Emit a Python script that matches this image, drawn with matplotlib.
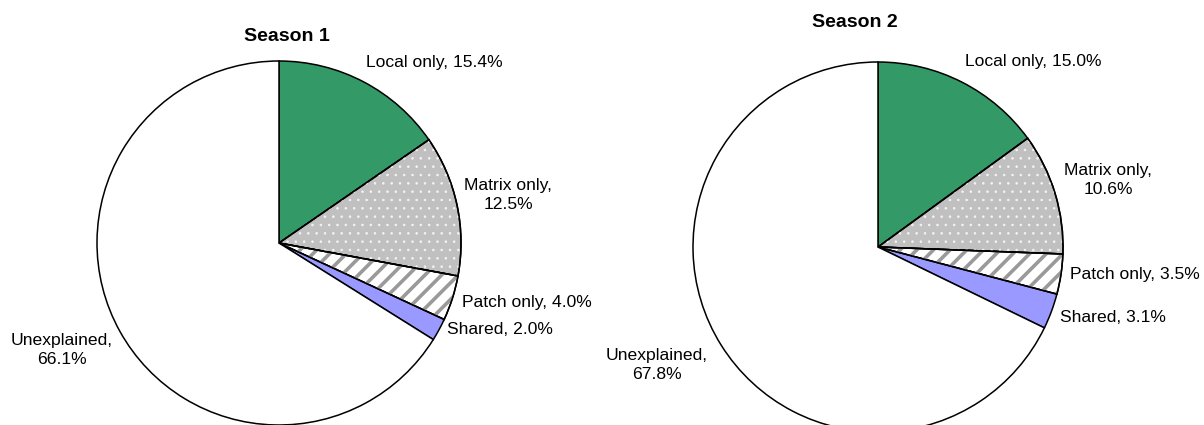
import matplotlib
matplotlib.use("Agg")
from matplotlib import pyplot as plt
from matplotlib.patches import Wedge

plt.rcParams['font.family'] = ['Liberation Sans', 'DejaVu Sans']

categories = ["Local only", "Matrix only", "Patch only", "Shared", "Unexplained"]
season1 = [15.4, 12.5, 4.0, 2.0, 66.1]
season2 = [15.0, 10.6, 3.5, 3.1, 67.8]
titles = ["Season 1", "Season 2"]

colors = ["#339966", "#C0C0C0", "#FFFFFF", "#9999FF", "#FFFFFF"]
hatches = [None, ("..", "#f4f4f4", 0.6), ("//", "#9a9a9a", 2.6), None, None]

W, H = 1204, 425
fig = plt.figure(figsize=(W / 100, H / 100), dpi=100)
ax = fig.add_axes([0, 0, 1, 1])


def py(y):
    # pixel row (from top) -> data y
    return H - y


def draw_pie(values, cx, cy, r):
    wedges, _ = ax.pie(values, colors=colors, startangle=90, counterclock=False,
                       center=(cx, py(cy)), radius=r,
                       wedgeprops=dict(edgecolor="black", linewidth=1.1))
    for w, h in zip(wedges, hatches):
        if h is None:
            continue
        pat, col, lw = h
        with plt.rc_context({'hatch.linewidth': lw}):
            p = Wedge(w.center, w.r, w.theta1, w.theta2, facecolor="none",
                      edgecolor=col, linewidth=0, hatch=pat, zorder=w.get_zorder() + 0.1)
            if hasattr(p, "set_hatch_linewidth"):
                p.set_hatch_linewidth(lw)
        ax.add_patch(p)
        ax.add_patch(Wedge(w.center, w.r, w.theta1, w.theta2, facecolor="none",
                           edgecolor="black", linewidth=1.1, zorder=w.get_zorder() + 0.2))
    return wedges


def label(text, x, y, ha="left"):
    ax.text(x, py(y), text, ha=ha, va="center", fontsize=12.6, linespacing=1.35)


def lbl(i, vals):
    return f"{categories[i]}, {vals[i]:.1f}%"


# Season 1
draw_pie(season1, 279, 243, 182)
ax.text(287, py(36), titles[0], ha="center", va="center", fontsize=14, fontweight="bold")
label(lbl(0, season1), 366, 62)
label(f"{categories[1]},\n{season1[1]:.1f}%", 508, 195, ha="center")
label(lbl(2, season1), 462, 302)
label(lbl(3, season1), 447, 330)
label(f"{categories[4]},\n{season1[4]:.1f}%", 62, 350, ha="center")

# Season 2
draw_pie(season2, 878, 247, 185)
ax.text(855, py(22), titles[1], ha="center", va="center", fontsize=14, fontweight="bold")
label(lbl(0, season2), 965, 61)
label(f"{categories[1]},\n{season2[1]:.1f}%", 1108, 180, ha="center")
label(lbl(2, season2), 1070, 274)
label(lbl(3, season2), 1060, 317)
label(f"{categories[4]},\n{season2[4]:.1f}%", 657, 365, ha="center")

ax.set_xlim(0, W)
ax.set_ylim(0, H)
ax.set_aspect("auto")
ax.axis("off")

fig.savefig("out.png", dpi=100)
